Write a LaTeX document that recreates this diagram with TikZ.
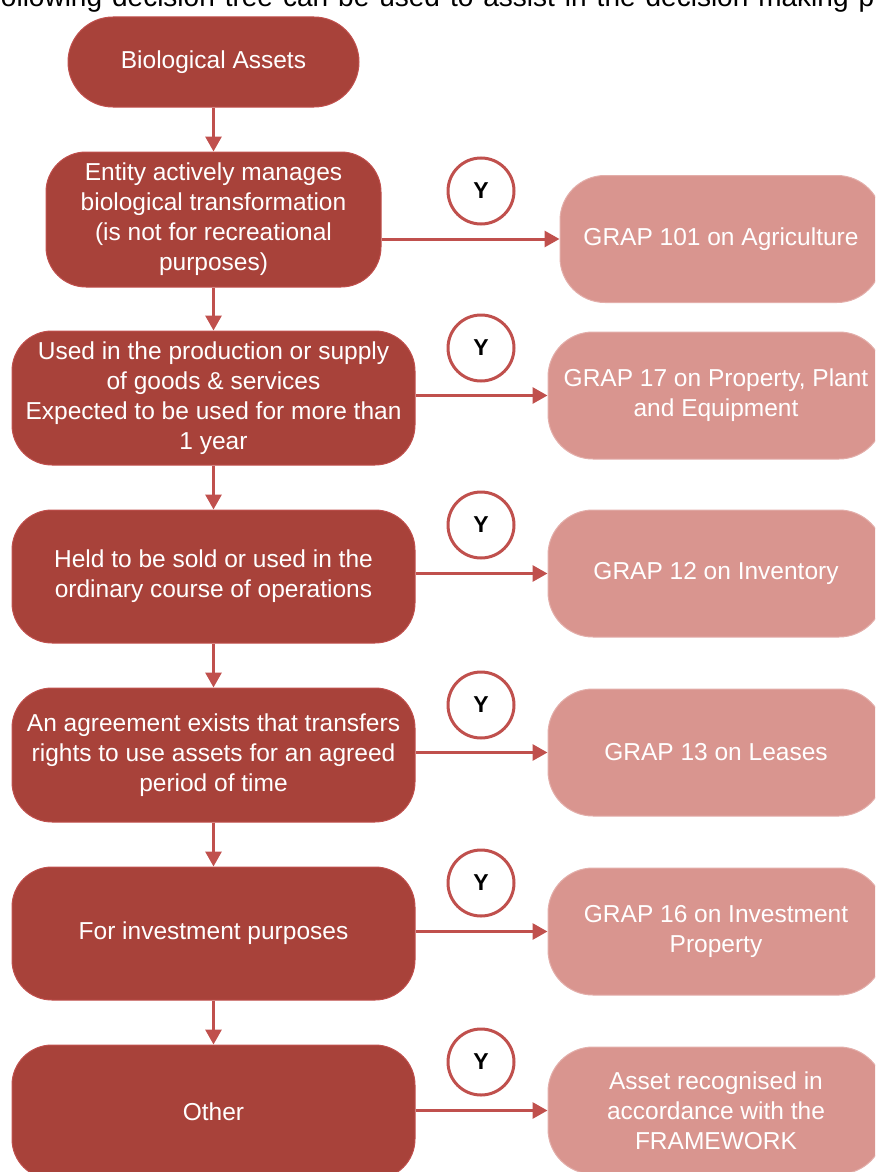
\documentclass[tikz,border=0pt]{standalone}
\usepackage{fontspec}
\setmainfont{Liberation Sans}
\usetikzlibrary{arrows.meta}
\definecolor{darkbox}{HTML}{A8423A}
\definecolor{darkedge}{HTML}{C0504D}
\definecolor{lightbox}{HTML}{D9958F}
\definecolor{lightedge}{HTML}{E3AEAA}
\definecolor{linkred}{HTML}{C0504D}
\tikzset{
  question/.style={draw=darkedge, line width=1pt, fill=darkbox, rounded corners=40pt,
    text=white, align=center, font=\fontsize{24.5}{30}\selectfont, inner sep=0pt},
  outcome/.style={draw=lightedge, line width=1pt, fill=lightbox, rounded corners=45pt,
    text=white, align=center, font=\fontsize{24.5}{30}\selectfont, inner sep=0pt,
    minimum width=336pt, minimum height=127pt},
  yesmark/.style={circle, draw=linkred, line width=3pt, fill=white, minimum size=66pt,
    inner sep=0pt, font=\fontsize{23}{28}\selectfont\bfseries},
  link/.style={draw=linkred, line width=3pt, -{Triangle[length=15pt,width=16pt]}}
}
\begin{document}
\begin{tikzpicture}[x=1pt,y=-1pt]
\useasboundingbox (0,0) rectangle (875,1172);
\clip (0,0) rectangle (875,1172);
% justified line of body text above the chart
\node[anchor=base west, inner sep=0pt, font=\fontsize{28}{34}\selectfont] (intro) at (-7,7)
  {\spaceskip=10pt\relax following decision tree can be used to assist in the decision making p};

% left column: the sequence of tests
\node[question, minimum width=291pt, minimum height=90pt, rounded corners=45pt] (bio) at (213.5,62) {Biological Assets};
\node[question, minimum width=335pt, minimum height=135pt] (q1) at (213.5,219.5)
  {Entity actively manages\\biological transformation\\(is not for recreational\\purposes)};
\node[question, minimum width=403pt, minimum height=134pt] (q2) at (213.5,398)
  {Used in the production or supply\\of goods \& services\\Expected to be used for more than\\1 year};
\node[question, minimum width=403pt, minimum height=133pt] (q3) at (213.5,576.5)
  {Held to be sold or used in the\\ordinary course of operations};
\node[question, minimum width=403pt, minimum height=134pt] (q4) at (213.5,755)
  {An agreement exists that transfers\\rights to use assets for an agreed\\period of time};
\node[question, minimum width=403pt, minimum height=133pt] (q5) at (213.5,933.5)
  {For investment purposes};
\node[question, minimum width=403pt, minimum height=134pt] (q6) at (213.5,1112)
  {Other};

% right column: the standard that applies
\node[outcome, minimum width=322pt] (r1) at (721,239) {GRAP 101 on Agriculture};
\node[outcome] (r2) at (716,395.5) {GRAP 17 on Property, Plant\\and Equipment};
\node[outcome] (r3) at (716,573.5) {GRAP 12 on Inventory};
\node[outcome] (r4) at (716,752.5) {GRAP 13 on Leases};
\node[outcome] (r5) at (716,931.5) {GRAP 16 on Investment\\Property};
\node[outcome] (r6) at (716,1110.5) {Asset recognised in\\accordance with the\\FRAMEWORK};

% "yes" markers
\node[yesmark] (y1) at (481,191) {Y};
\node[yesmark] (y2) at (481,348) {Y};
\node[yesmark] (y3) at (481,525) {Y};
\node[yesmark] (y4) at (481,705) {Y};
\node[yesmark] (y5) at (481,883) {Y};
\node[yesmark] (y6) at (481,1062) {Y};

% downward flow
\draw[link] (bio) -- (q1);
\draw[link] (q1) -- (q2);
\draw[link] (q2) -- (q3);
\draw[link] (q3) -- (q4);
\draw[link] (q4) -- (q5);
\draw[link] (q5) -- (q6);

% yes branches
\draw[link] (q1.east |- r1.west) -- (r1.west);
\draw[link] (q2.east |- r2.west) -- (r2.west);
\draw[link] (q3.east |- r3.west) -- (r3.west);
\draw[link] (q4.east |- r4.west) -- (r4.west);
\draw[link] (q5.east |- r5.west) -- (r5.west);
\draw[link] (q6.east |- r6.west) -- (r6.west);
\end{tikzpicture}
\end{document}
